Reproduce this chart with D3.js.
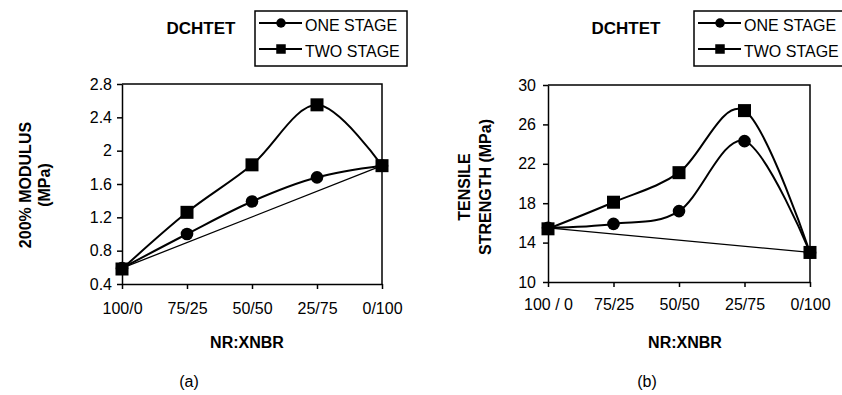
<!DOCTYPE html>
<html lang="en">
<head>
<meta charset="utf-8">
<title>DCHTET one stage vs two stage</title>
<script src="https://cdn.jsdelivr.net/npm/d3@7"></script>
<style>
  body { margin: 0; background: #fff; }
  svg { font-family: "Liberation Sans", Arial, sans-serif; }
  .tick text { font-size: 16px; fill: #000; }
  .domain, .tick line { stroke: #000; stroke-width: 1.5; }
  .title { font-weight: bold; font-size: 16px; }
  .curve { fill: none; stroke: #000; stroke-width: 2; }
  .additive { fill: none; stroke: #000; stroke-width: 1.3; }
</style>
</head>
<body>
<script>
// categories (blend ratio)
var catsA = ["100/0", "75/25", "50/50", "25/75", "0/100"];
var catsB = ["100 / 0", "75/25", "50/50", "25/75", "0/100"];

// (a) 200% modulus, MPa
var modulusOne = [0.59, 1.0, 1.39, 1.68, 1.82];
var modulusTwo = [0.58, 1.26, 1.83, 2.55, 1.82];
var modulusAdd = [0.59, 1.82];   // straight line joining the pure rubbers
var modulusTicks = [0.4, 0.8, 1.2, 1.6, 2, 2.4, 2.8];

// (b) tensile strength, MPa
var tensileOne = [15.5, 15.9, 17.2, 24.3, 13.0];
var tensileTwo = [15.4, 18.1, 21.1, 27.4, 13.0];
var tensileAdd = [15.5, 13.0];
var tensileTicks = [10, 14, 18, 22, 26, 30];

var legendLabels = ["ONE STAGE", "TWO STAGE"];

var svg = d3.select("body").append("svg")
  .attr("width", 842)
  .attr("height", 395)
  .style("overflow", "hidden");

function marker(g, type, x, y, s) {
  if (type === "circle") {
    g.append("circle").attr("cx", x).attr("cy", y).attr("r", s / 2).attr("fill", "#000");
  } else {
    g.append("rect").attr("x", x - s / 2).attr("y", y - s / 2)
      .attr("width", s).attr("height", s).attr("fill", "#000");
  }
}

function panel(p) {
  var g = svg.append("g");

  var x = d3.scalePoint().domain(p.cats).range([p.left, p.right]);
  var y = d3.scaleLinear().domain(p.yDomain).range([p.bottom, p.top]);

  // plot frame (top and right sides)
  g.append("path")
    .attr("d", "M" + p.left + "," + p.top + "H" + p.right + "V" + p.bottom)
    .attr("fill", "none").attr("stroke", "#000").attr("stroke-width", 1.5);

  g.append("g")
    .attr("transform", "translate(" + p.left + ",0)")
    .call(d3.axisLeft(y).tickValues(p.ticks).tickSizeInner(5).tickSizeOuter(0)
      .tickPadding(p.yPad).tickFormat(function(d){ return String(d); }));

  g.append("g")
    .attr("transform", "translate(0," + p.bottom + ")")
    .call(d3.axisBottom(x).tickSizeInner(5).tickSizeOuter(0).tickPadding(p.xPad));

  var line = d3.line()
    .x(function(d, i){ return x(p.cats[i]); })
    .y(function(d){ return y(d); })
    .curve(d3.curveCardinal.tension(0));

  // straight additive line
  var ends = [p.cats[0], p.cats[p.cats.length - 1]];
  g.append("path")
    .attr("class", "additive")
    .attr("d", d3.line()
      .x(function(d, i){ return x(ends[i]); })
      .y(function(d){ return y(d); })(p.add));

  g.append("path").attr("class", "curve").attr("d", line(p.one));
  g.append("path").attr("class", "curve").attr("d", line(p.two));

  p.one.forEach(function(v, i){ marker(g, "circle", x(p.cats[i]), y(v), 12.6); });
  p.two.forEach(function(v, i){ marker(g, "square", x(p.cats[i]), y(v), 13); });

  // axis titles
  p.yTitle.forEach(function(t){
    g.append("text").attr("class", "title")
      .attr("transform", "translate(" + t.x + "," + p.yMid + ") rotate(-90)")
      .attr("text-anchor", "middle")
      .text(t.text);
  });

  g.append("text").attr("class", "title")
    .attr("x", p.xTitleX).attr("y", 348)
    .attr("text-anchor", "middle")
    .text("NR:XNBR");

  g.append("text").attr("class", "title")
    .attr("x", p.headX).attr("y", 34)
    .attr("text-anchor", "middle")
    .style("font-size", "17px")
    .text("DCHTET");

  g.append("text")
    .attr("x", p.capX).attr("y", 387)
    .attr("text-anchor", "middle")
    .style("font-size", "16px")
    .text(p.caption);

  // legend
  var lg = g.append("g");
  lg.append("rect")
    .attr("x", p.legX).attr("y", 11)
    .attr("width", p.legW).attr("height", 55)
    .attr("fill", "#fff").attr("stroke", "#000").attr("stroke-width", 1.5);
  legendLabels.forEach(function(lab, i){
    var ly = 23 + i * 26;
    lg.append("line")
      .attr("x1", p.legX + 4).attr("x2", p.legX + 47)
      .attr("y1", ly).attr("y2", ly)
      .attr("stroke", "#000").attr("stroke-width", 2);
    marker(lg, i === 0 ? "circle" : "square", p.legX + 26, ly, 9.5);
    lg.append("text")
      .attr("x", p.legX + 50).attr("y", ly + 8.5)
      .attr("transform", "translate(0," + (ly + 8.5) + ") scale(1,1.08) translate(0," + (-(ly + 8.5)) + ")")
      .style("font-size", "16px")
      .text(lab);
  });
}

panel({
  cats: catsA, one: modulusOne, two: modulusTwo, add: modulusAdd,
  yDomain: [0.4, 2.8], ticks: modulusTicks,
  left: 122, right: 382, top: 84, bottom: 284,
  yPad: 5, xPad: 14,
  yTitle: [{x: 31, text: "200% MODULUS"}, {x: 50, text: "(MPa)"}], yMid: 185,
  xTitleX: 247, headX: 201, capX: 189, caption: "(a)",
  legX: 255, legW: 152
});

panel({
  cats: catsB, one: tensileOne, two: tensileTwo, add: tensileAdd,
  yDomain: [10, 30], ticks: tensileTicks,
  left: 548, right: 810, top: 85, bottom: 282,
  yPad: 7, xPad: 12,
  yTitle: [{x: 470, text: "TENSILE"}, {x: 491, text: "STRENGTH (MPa)"}], yMid: 187,
  xTitleX: 685, headX: 626, capX: 647, caption: "(b)",
  legX: 694, legW: 160
});
</script>
</body>
</html>
